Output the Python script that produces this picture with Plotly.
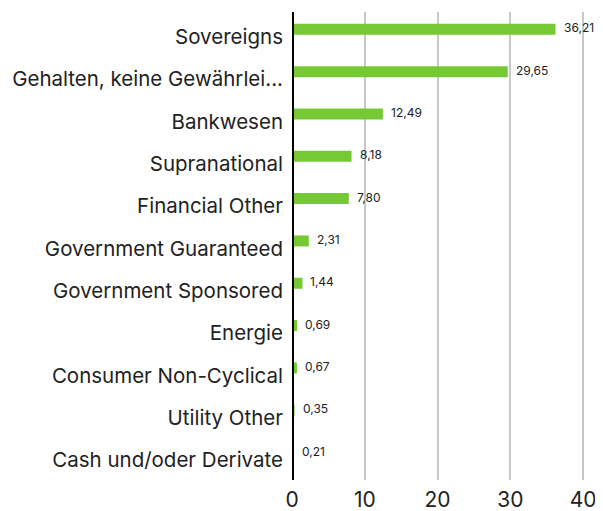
import plotly.graph_objects as go

categories = ["Sovereigns", "Gehalten, keine Gewährlei...", "Bankwesen", "Supranational",
              "Financial Other", "Government Guaranteed", "Government Sponsored", "Energie",
              "Consumer Non-Cyclical", "Utility Other", "Cash und/oder Derivate"]
values = [36.21, 29.65, 12.49, 8.18, 7.80, 2.31, 1.44, 0.69, 0.67, 0.35, 0.21]
value_labels = [f"{v:.2f}".replace(".", ",") for v in values]
x_ticks = [0, 10, 20, 30, 40]

fig = go.Figure()
fig.add_trace(go.Bar(
    x=values, y=categories, orientation="h",
    marker=dict(color="#76c934", line=dict(width=0)),
    width=0.26, offset=-0.31,
    hoverinfo="skip",
))
for v, c, t in zip(values, categories, value_labels):
    fig.add_annotation(x=v, y=c, text=t, showarrow=False, xanchor="left", yanchor="middle",
                       xshift=6, yshift=9, font=dict(size=12, color="#222", family="Inter"))

fig.update_layout(
    width=595, height=503,
    margin=dict(l=284, r=17, t=4, b=31, autoexpand=False),
    plot_bgcolor="white", paper_bgcolor="white",
    showlegend=False,
    font=dict(family="Inter", color="#222"),
    xaxis=dict(range=[0, 40.4], tickvals=x_ticks, showgrid=True, gridcolor="#c8c8c8", gridwidth=2,
               zeroline=False, showline=False, tickfont=dict(size=21, color="#222"),
               ticks="", ticklabelstandoff=5, automargin=False),
    yaxis=dict(categoryorder="array", categoryarray=categories, range=[10.47, -0.59],
               showgrid=False, zeroline=False, showline=False, ticks="",
               tickfont=dict(size=20.5, color="#222"), ticklabelstandoff=8, automargin=False),
    shapes=[dict(type="line", xref="x", yref="paper", x0=0, x1=0, y0=0, y1=1,
                 line=dict(color="black", width=4))],
)
fig.write_html("out.html")
